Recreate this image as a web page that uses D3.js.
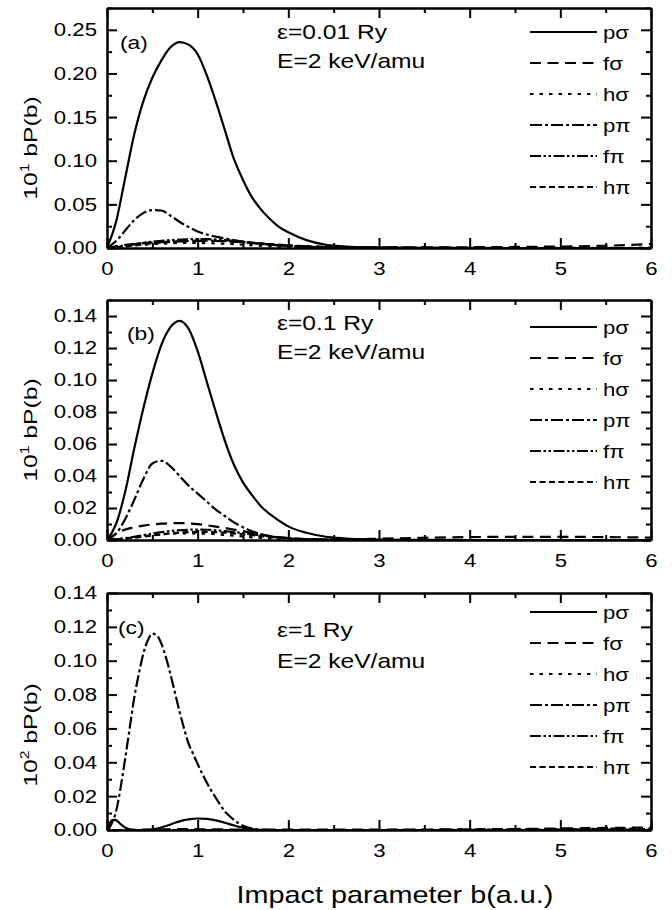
<!DOCTYPE html>
<html>
<head>
<meta charset="utf-8">
<script src="https://cdn.jsdelivr.net/npm/d3@7"></script>
<style>
  body { margin: 0; background: #fff; }
  svg text { font-family: "Liberation Sans", Arial, Helvetica, sans-serif; fill: #000; }
  .axis .domain, .axis .tick line { stroke: #000; stroke-width: 2px; }
</style>
</head>
<body>
<svg id="chart" width="672" height="910"></svg>
<script>
// ---- data -------------------------------------------------------------
const seriesNames = ["pσ", "fσ", "hσ", "pπ", "fπ", "hπ"];
const xTicks = [0, 1, 2, 3, 4, 5, 6];

// impact-parameter grid used for panels (a) and (b)
const bGrid = [0, 0.1, 0.2, 0.3, 0.4, 0.5, 0.6, 0.7, 0.8, 0.9, 1.0, 1.1, 1.2, 1.3, 1.4, 1.5,
               1.6, 1.7, 1.8, 1.9, 2.0, 2.2, 2.4, 2.6, 2.8, 3.0, 3.5, 4.0, 4.5, 5.0, 5.5, 6.0];

// (a) epsilon = 0.01 Ry, units of 10^1 bP(b)
const aPSigma = [0, 0.03, 0.08, 0.13, 0.168, 0.195, 0.215, 0.23, 0.236, 0.233, 0.222, 0.198, 0.168, 0.135, 0.102, 0.078,
                 0.058, 0.044, 0.033, 0.024, 0.018, 0.009, 0.004, 0.002, 0.001, 0.0005, 0.0002, 0.0001, 0, 0, 0, 0];
const aFSigma = [0, 0.002, 0.0035, 0.0045, 0.0055, 0.0062, 0.0068, 0.0073, 0.0077, 0.008, 0.0082, 0.0082, 0.008, 0.0077, 0.0072, 0.0065,
                 0.0057, 0.0049, 0.0041, 0.0034, 0.0028, 0.0019, 0.0013, 0.0009, 0.0007, 0.0006, 0.0007, 0.0009, 0.0012, 0.0017, 0.0026, 0.0045];
const aHSigma = [0, 0.001, 0.002, 0.003, 0.0038, 0.0045, 0.005, 0.0054, 0.0057, 0.0058, 0.0058, 0.0056, 0.0053, 0.0049, 0.0044, 0.0038,
                 0.0032, 0.0026, 0.0021, 0.0016, 0.0012, 0.0007, 0.0004, 0.0002, 0.0001, 0.0001, 0, 0, 0, 0.0001, 0.0002, 0.0004];
const aPPi    = [0, 0.008, 0.02, 0.032, 0.04, 0.0435, 0.043, 0.037, 0.03, 0.024, 0.019, 0.0155, 0.013, 0.011, 0.009, 0.0075,
                 0.006, 0.0048, 0.0038, 0.003, 0.0024, 0.0015, 0.0009, 0.0005, 0.0003, 0.0002, 0.0001, 0, 0, 0, 0, 0];
const aFPi    = [0, 0.0015, 0.003, 0.0045, 0.006, 0.0072, 0.0082, 0.009, 0.0096, 0.01, 0.0102, 0.0101, 0.0097, 0.009, 0.0081, 0.0071,
                 0.006, 0.005, 0.004, 0.0032, 0.0025, 0.0015, 0.0008, 0.0004, 0.0002, 0.0001, 0, 0, 0, 0, 0, 0];
const aHPi    = [0, 0.0008, 0.0018, 0.003, 0.0042, 0.0053, 0.0062, 0.007, 0.0076, 0.008, 0.0082, 0.0083, 0.0082, 0.0079, 0.0074, 0.0068,
                 0.006, 0.0052, 0.0044, 0.0037, 0.003, 0.0019, 0.0011, 0.0006, 0.0003, 0.0002, 0.0001, 0, 0, 0, 0, 0];

// (b) epsilon = 0.1 Ry, units of 10^1 bP(b)
const bPSigma = [0, 0.01, 0.03, 0.057, 0.082, 0.104, 0.122, 0.133, 0.137, 0.132, 0.118, 0.099, 0.08, 0.062, 0.047, 0.036,
                 0.028, 0.021, 0.016, 0.012, 0.0085, 0.0045, 0.0022, 0.0011, 0.0005, 0.0002, 0.0001, 0, 0, 0, 0, 0];
const bFSigma = [0, 0.004, 0.0065, 0.008, 0.009, 0.0097, 0.0102, 0.0105, 0.0106, 0.0104, 0.0099, 0.0092, 0.0084, 0.0075, 0.0065, 0.0055,
                 0.0044, 0.0034, 0.0025, 0.0018, 0.0012, 0.0006, 0.0004, 0.0004, 0.0005, 0.0008, 0.0014, 0.0018, 0.002, 0.002, 0.0018, 0.0015];
const bHSigma = [0, 0.0004, 0.001, 0.0017, 0.0024, 0.003, 0.0035, 0.0039, 0.0041, 0.0042, 0.0041, 0.0039, 0.0036, 0.0032, 0.0027, 0.0022,
                 0.0017, 0.0013, 0.001, 0.0007, 0.0005, 0.0002, 0.0001, 0, 0, 0, 0, 0, 0, 0, 0, 0];
const bPPi    = [0, 0.004, 0.013, 0.025, 0.038, 0.0478, 0.0495, 0.046, 0.04, 0.034, 0.029, 0.024, 0.019, 0.015, 0.011, 0.008,
                 0.0055, 0.0035, 0.0022, 0.0014, 0.0009, 0.0004, 0.0002, 0.0001, 0, 0, 0, 0, 0, 0, 0, 0];
const bFPi    = [0, 0.0005, 0.0012, 0.002, 0.003, 0.004, 0.0049, 0.0056, 0.0061, 0.0064, 0.0065, 0.0064, 0.0061, 0.0056, 0.005, 0.0043,
                 0.0036, 0.0029, 0.0022, 0.0016, 0.0011, 0.0005, 0.0002, 0.0001, 0, 0, 0, 0, 0, 0, 0, 0];
const bHPi    = [0, 0.0003, 0.0008, 0.0014, 0.0021, 0.0028, 0.0035, 0.0041, 0.0046, 0.0049, 0.0051, 0.0051, 0.0049, 0.0046, 0.0041, 0.0036,
                 0.003, 0.0024, 0.0018, 0.0013, 0.0009, 0.0004, 0.0002, 0.0001, 0, 0, 0, 0, 0, 0, 0, 0];

// (c) epsilon = 1 Ry, finer grid near b = 0, units of 10^2 bP(b)
const bGridC = [0, 0.03, 0.06, 0.09, 0.12, 0.15, 0.2, 0.25, 0.3, 0.35, 0.4, 0.45, 0.5, 0.55, 0.6, 0.65, 0.7, 0.75, 0.8, 0.85,
                0.9, 0.95, 1.0, 1.1, 1.2, 1.3, 1.4, 1.5, 1.6, 1.7, 1.8, 2.0, 2.5, 3.0, 3.5, 4.0, 4.5, 5.0, 5.5, 6.0];
const cPSigma = [0, 0.004, 0.0058, 0.006, 0.005, 0.0035, 0.0015, 0.0004, 0.0001, 0, 0, 0.0001, 0.0003, 0.0008, 0.0015, 0.0024, 0.0033, 0.0043, 0.0051, 0.0058,
                 0.0063, 0.0066, 0.0068, 0.0066, 0.0057, 0.0043, 0.0027, 0.0013, 0.0004, 0.0001, 0, 0, 0, 0, 0, 0, 0, 0, 0, 0];
const cFSigma = [0, 0, 0, 0, 0, 0, 0, 0, 0.0001, 0.0001, 0.0002, 0.0002, 0.0003, 0.0003, 0.0004, 0.0004, 0.0005, 0.0005, 0.0005, 0.0005,
                 0.0005, 0.0005, 0.0005, 0.0004, 0.0004, 0.0003, 0.0003, 0.0003, 0.0003, 0.0003, 0.0003, 0.0003, 0.0003, 0.0003, 0.0003, 0.0004, 0.0006, 0.0009, 0.0012, 0.0015];
const cHSigma = [0, 0, 0, 0, 0, 0, 0, 0, 0, 0, 0, 0, 0, 0, 0, 0, 0, 0, 0, 0,
                 0, 0, 0, 0, 0, 0, 0, 0, 0, 0, 0, 0, 0, 0, 0.0001, 0.0002, 0.0003, 0.0005, 0.0008, 0.0009];
const cPPi    = [0, 0.0015, 0.005, 0.009, 0.016, 0.025, 0.042, 0.06, 0.078, 0.092, 0.104, 0.112, 0.116, 0.115, 0.11, 0.102, 0.092, 0.081, 0.07, 0.06,
                 0.051, 0.045, 0.039, 0.028, 0.019, 0.011, 0.006, 0.0025, 0.0008, 0.0002, 0, 0, 0, 0, 0, 0, 0, 0, 0, 0];
const cFPi    = [0, 0, 0, 0, 0, 0, 0, 0, 0, 0, 0, 0, 0, 0, 0, 0, 0, 0, 0, 0,
                 0, 0, 0, 0, 0, 0, 0, 0, 0, 0, 0, 0, 0, 0, 0, 0, 0, 0.0001, 0.0002, 0.0003];
const cHPi    = [0, 0, 0, 0, 0, 0, 0, 0, 0, 0, 0, 0, 0, 0, 0, 0, 0, 0, 0, 0,
                 0, 0, 0, 0, 0, 0, 0, 0, 0, 0, 0, 0, 0, 0, 0, 0.0001, 0.0002, 0.0003, 0.0005, 0.0006];

// ---- styles -----------------------------------------------------------
const dashes = [null, "11,6.5", "3.5,6", "12,3,3,3", "11,2.5,2.5,2.5,2.5,2.5", "6,3.5"];
const SX = 1.2;          // horizontal widening of glyphs
const FS = 18.5;         // tick / legend font size

const panels = [
  { tag: "(a)", eps: "ε=0.01 Ry", exp: "1", top: 8,   bottom: 248, yMax: 0.275, major: 0.05, minor: 0.025,
    grid: bGrid,  series: [aPSigma, aFSigma, aHSigma, aPPi, aFPi, aHPi],
    tagPos: [120, 49], epsY: 39, eY: 68, legendY: 32, titleY: 148 },
  { tag: "(b)", eps: "ε=0.1 Ry",  exp: "1", top: 300, bottom: 540, yMax: 0.15,  major: 0.02, minor: 0.01,
    grid: bGrid,  series: [bPSigma, bFSigma, bHSigma, bPPi, bFPi, bHPi],
    tagPos: [127, 340], epsY: 330, eY: 359, legendY: 327, titleY: 430 },
  { tag: "(c)", eps: "ε=1 Ry",    exp: "2", top: 593, bottom: 830, yMax: 0.14,  major: 0.02, minor: 0.01,
    grid: bGridC, series: [cPSigma, cFSigma, cHSigma, cPPi, cFPi, cHPi],
    tagPos: [118, 634], epsY: 637, eY: 668, legendY: 612, titleY: 735 }
];

const X0 = 107, X1 = 651;
const svg = d3.select("#chart");

function txt(parent, x, y, s, size, anchor) {
  return parent.append("text")
    .attr("transform", `translate(${x},${y}) scale(${SX},1)`)
    .attr("font-size", size)
    .attr("text-anchor", anchor || "start")
    .text(s);
}

// axis group with solid black frame line and ticks; style is resolved right away
function addAxis(parent, tx, ty, axisGen) {
  const sel = parent.append("g").attr("class", "axis")
    .attr("transform", `translate(${tx},${ty})`)
    .call(axisGen);
  sel.select(".domain").attr("stroke", "#000").attr("stroke-width", 2).style("stroke", "#000");
  sel.selectAll(".tick line").attr("stroke", "#000").attr("stroke-width", 2).style("stroke", "#000");
  const dn = sel.select(".domain").node();
  getComputedStyle(dn).stroke;
  dn.getBBox();
  return sel;
}

panels.forEach((p, pi) => {
  const g = svg.append("g");
  const x = d3.scaleLinear().domain([0, 6]).range([X0, X1]);
  const y = d3.scaleLinear().domain([0, p.yMax]).range([p.bottom, p.top]);

  const majorY = d3.range(0, p.yMax + 1e-9, p.major).map(v => +v.toFixed(4));
  const minorY = d3.range(0, p.yMax + 1e-9, p.minor).map(v => +v.toFixed(4))
    .filter(v => !majorY.some(m => Math.abs(m - v) < 1e-9));
  const minorX = d3.range(0.5, 6, 1);

  // clip region for the curves
  const clipId = "plotclip" + pi;
  svg.append("defs").append("clipPath").attr("id", clipId).append("rect")
    .attr("x", X0).attr("y", p.top).attr("width", X1 - X0).attr("height", p.bottom - p.top);

  // curves
  const lineGen = d3.line().x(d => x(d[0])).y(d => y(d[1])).curve(d3.curveMonotoneX);
  p.series.forEach((vals, si) => {
    g.append("path").datum(p.grid.map((b, k) => [b, vals[k]]))
      .attr("clip-path", `url(#${clipId})`)
      .attr("d", lineGen)
      .attr("fill", "none").attr("stroke", "#000").attr("stroke-width", 2.2)
      .attr("stroke-dasharray", dashes[si]);
  });

  // frame with inward major/minor ticks on all four sides
  addAxis(g, 0, p.bottom, d3.axisBottom(x).tickValues(minorX).tickSize(-5).tickSizeOuter(0).tickFormat(""));
  const bMaj = addAxis(g, 0, p.bottom, d3.axisBottom(x).tickValues(xTicks).tickSize(-10).tickSizeOuter(0).tickPadding(14).tickFormat(d3.format("d")));
  bMaj.selectAll(".tick text").attr("font-size", FS).attr("transform", `scale(${SX},1)`);
  bMaj.attr("font-family", null).attr("font-size", null);

  addAxis(g, 0, p.top, d3.axisTop(x).tickValues(minorX).tickSize(-5).tickSizeOuter(0).tickFormat(""));
  addAxis(g, 0, p.top, d3.axisTop(x).tickValues(xTicks).tickSize(-10).tickSizeOuter(0).tickFormat(""));

  addAxis(g, X0, 0, d3.axisLeft(y).tickValues(minorY).tickSize(-5).tickSizeOuter(0).tickFormat(""));
  const lMaj = addAxis(g, X0, 0, d3.axisLeft(y).tickValues(majorY).tickSize(-10).tickSizeOuter(0).tickFormat(d3.format(".2f")));
  lMaj.attr("font-family", null).attr("font-size", null);
  lMaj.selectAll(".tick text").attr("font-size", FS)
    .attr("x", 0).attr("transform", `translate(-10,0) scale(${SX},1)`);

  addAxis(g, X1, 0, d3.axisRight(y).tickValues(minorY).tickSize(-5).tickSizeOuter(0).tickFormat(""));
  addAxis(g, X1, 0, d3.axisRight(y).tickValues(majorY).tickSize(-10).tickSizeOuter(0).tickFormat(""));

  // y-axis title with power-of-ten prefix
  const yt = g.append("text")
    .attr("transform", `translate(37,${p.titleY}) rotate(-90) scale(1.3,1)`)
    .attr("text-anchor", "middle").attr("font-size", 19);
  yt.append("tspan").text("10");
  yt.append("tspan").attr("font-size", 12).attr("dy", -8).text(p.exp);
  yt.append("tspan").attr("dy", 8).text(" bP(b)");

  // panel annotations
  txt(g, p.tagPos[0], p.tagPos[1], p.tag, 19);
  txt(g, 277, p.epsY, p.eps, 20.5);
  txt(g, 277, p.eY, "E=2 keV/amu", 20.5);

  // legend
  seriesNames.forEach((name, si) => {
    const ly = p.legendY + si * 31;
    g.append("line").attr("x1", 530).attr("x2", 597).attr("y1", ly).attr("y2", ly)
      .attr("stroke", "#000").attr("stroke-width", 2).attr("stroke-dasharray", dashes[si]);
    txt(g, 603, ly + 6.5, name, FS);
  });
});

// shared x-axis title
txt(svg, 395, 903, "Impact parameter b(a.u.)", 24, "middle");
document.elementFromPoint(300, 248);
</script>
</body>
</html>
